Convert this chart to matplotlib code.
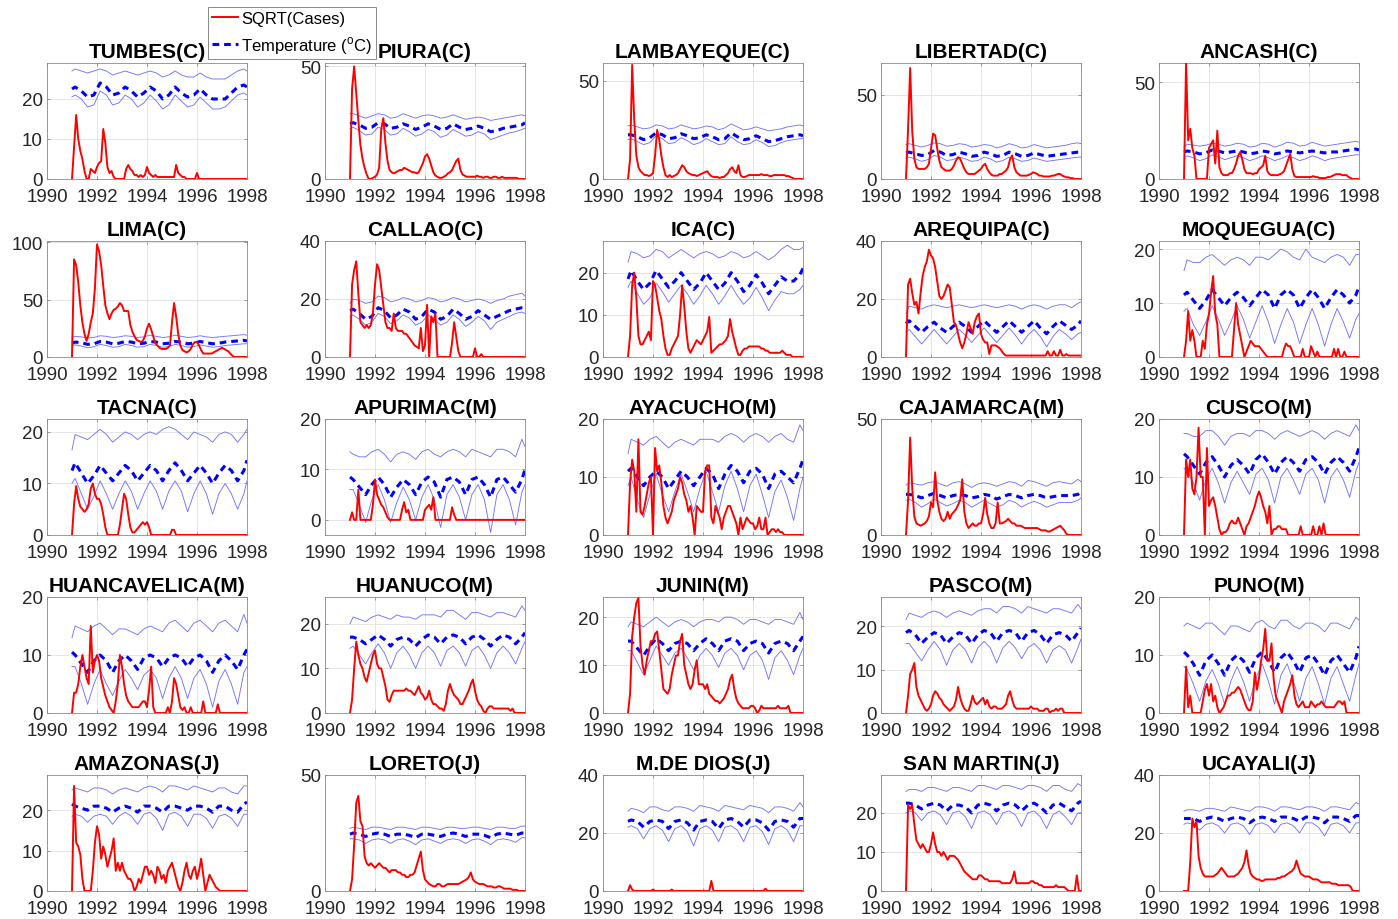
import numpy as np
import matplotlib
matplotlib.use("Agg")
import matplotlib.pyplot as plt
from matplotlib.lines import Line2D

plt.rcParams['font.family'] = ['Liberation Sans', 'DejaVu Sans']
plt.rcParams['mathtext.fontset'] = 'custom'
plt.rcParams['mathtext.rm'] = 'Liberation Sans'

# ---------------- data ----------------
# SQRT(cases): monthly values, Jan 1991 ... Dec 1997, then Jan 1998 (85 values)
# temperatures: start 1991.0, then Feb/May/Aug/Nov of 1991..1997, then 1998.0 (30 values)
names = ["TUMBES(C)", "PIURA(C)", "LAMBAYEQUE(C)", "LIBERTAD(C)", "ANCASH(C)",
         "LIMA(C)", "CALLAO(C)", "ICA(C)", "AREQUIPA(C)", "MOQUEGUA(C)",
         "TACNA(C)", "APURIMAC(M)", "AYACUCHO(M)", "CAJAMARCA(M)", "CUSCO(M)",
         "HUANCAVELICA(M)", "HUANUCO(M)", "JUNIN(M)", "PASCO(M)", "PUNO(M)",
         "AMAZONAS(J)", "LORETO(J)", "M.DE DIOS(J)", "SAN MARTIN(J)", "UCAYALI(J)"]

year_ticks = [1990, 1992, 1994, 1996, 1998]

tumbes_c = [0, 8, 16, 10, 7, 5, 2, 0, 0, 2.5, 2, 1.5,
            3, 4, 4.5, 12.5, 9, 3, 1.5, 2, 0.5, 0, 0, 0,
            0, 0, 2.5, 3.5, 2.5, 2, 1, 1, 0.5, 1, 0.5, 1,
            3, 1.5, 1, 0.5, 1, 0.5, 0.5, 0.5, 0.5, 0.5, 0.5, 0.5,
            0.5, 0.5, 3.5, 1.5, 1, 0.5, 0.5, 0, 0, 0, 0, 0,
            1.5, 0, 0, 0, 0, 0, 0, 0, 0, 0, 0, 0,
            0, 0, 0, 0, 0, 0, 0, 0, 0, 0, 0, 0,
            0]
tumbes_hi = [27, 27.5, 27, 26.5, 27, 27.5, 27, 26, 26.5, 27, 26.5, 26, 26.5, 27, 26.5, 25.5, 26,
             27, 26, 25.5, 25.5, 26.5, 25.5, 25, 25, 25, 26, 27, 27.5, 27]
tumbes_mu = [22.5, 23, 22, 20.5, 21, 24, 23, 21, 21.5, 23, 22, 20.5, 21.5, 23, 22, 20, 21,
             23, 21.5, 20.5, 21, 22.5, 21, 20, 20, 20, 21.5, 23, 23.5, 23]
tumbes_lo = [20.5, 21, 20, 18, 18.5, 22, 21, 18.5, 19, 21, 20, 18, 19, 21, 19.5, 17.5, 18.5,
             21, 19.5, 18, 18.5, 20.5, 19, 17.5, 17.5, 18, 19.5, 21, 21.5, 21]

piura_c = [0, 40, 50, 38, 26, 15, 9, 5, 2, 0, 0, 0.5,
           1, 2, 5, 22, 27, 16, 8, 4, 3, 2.5, 3, 3.5,
           4, 4, 5, 4.5, 4, 3.5, 3, 3, 2.5, 3, 5, 7,
           10, 11, 9, 6, 3, 1.5, 1, 0.5, 0.5, 1, 1.5, 2.5,
           3, 4, 6, 8, 9, 4, 2, 1.5, 1, 1, 1, 1,
           1, 1.5, 1, 1, 0.5, 1, 1, 0.5, 0.5, 1, 1, 0.5,
           0.5, 1, 0.5, 0.5, 0.5, 0.5, 0.5, 0.5, 0.5, 0, 0, 0,
           0]
piura_hi = [29, 29, 28, 27, 28, 29, 28.5, 27, 27.5, 29, 28, 27, 28, 28.5, 28, 27, 27.5,
            28.5, 27.5, 26.5, 27, 27.5, 27, 26, 26.5, 27, 27.5, 28, 28.5, 28]
piura_mu = [24.5, 25, 24, 22.5, 23, 25, 24.5, 22.5, 23, 24.5, 23.5, 22, 23, 24.5, 23.5, 22, 22.5,
            24.5, 23, 22, 22.5, 23.5, 22.5, 21, 21.5, 22.5, 23, 23.5, 24, 25]
piura_lo = [22.5, 23, 21.5, 19.5, 20, 23, 22, 19.5, 20, 22.5, 21, 19, 20, 22, 21, 18.5, 19.5,
            22, 20.5, 19, 19.5, 21, 20, 17.5, 18.5, 19.5, 20.5, 21, 22, 22.5]

lamb_c = [0, 10, 58, 30, 12, 6, 4, 3, 2, 2, 1.5, 2,
          3, 12, 25, 20, 12, 6, 2, 1, 2, 1, 1.5, 2,
          3, 5, 7, 6, 4, 3, 2.5, 2, 2, 1.5, 2, 2.5,
          3, 3.5, 4, 2.5, 1.5, 1, 1, 1, 0.5, 1, 1, 2,
          3, 5, 6, 4, 3, 7, 2, 1, 1, 1.5, 2, 2,
          2, 2, 2, 2, 2.5, 2, 2, 2, 1.5, 1.5, 2, 2,
          2, 2, 2, 2, 1.5, 1.5, 1, 0.5, 0, 0, 0, 0,
          0]
lamb_hi = [27, 27.5, 26.5, 25.5, 26, 27.5, 27, 25.5, 26, 27.5, 26.5, 25.5, 26, 27, 26.5, 25, 26,
           28, 26.5, 25, 25.5, 26.5, 25.5, 24.5, 25, 25.5, 26.5, 27, 27.5, 27]
lamb_mu = [22.5, 22.5, 21.5, 20, 21, 23.5, 22.5, 20.5, 21, 23, 22, 20.5, 21, 22.5, 21.5, 20, 20.5,
           23.5, 21.5, 20, 20.5, 22, 20.5, 19, 19.5, 20.5, 21.5, 22, 22.5, 22]
lamb_lo = [20, 20.5, 19, 17.5, 18.5, 22, 20.5, 18, 18.5, 21, 19.5, 17.5, 18.5, 20.5, 19, 17.5, 18,
           21.5, 19, 17.5, 18, 20, 18.5, 16.5, 17, 18.5, 19.5, 20, 20.5, 20.5]

lib_c = [0, 30, 66, 28, 12, 7, 6, 6, 6, 6, 7, 9,
         18, 27, 26, 18, 11, 7, 6, 5, 5, 5, 6, 8,
         11, 13, 12, 9, 6, 4, 3, 3, 3, 3, 4, 5,
         6, 8, 9, 6, 4, 2.5, 2, 2, 2, 3, 3, 4,
         5, 7, 12, 14, 7, 4, 3, 2, 2, 2, 2, 2.5,
         3, 4, 3.5, 3, 2, 2, 1.5, 1.5, 1.5, 1.5, 2, 2,
         2.5, 3, 3, 2, 1.5, 1, 1, 0.5, 0.5, 0, 0, 0,
         0]
lib_hi = [20.5, 21, 20, 19, 20, 21.5, 21, 19.5, 20, 21, 20.5, 19, 19.5, 20.5, 20, 18.5, 19.5,
          21, 20, 18.5, 19, 20.5, 19.5, 18.5, 19, 19.5, 20, 21, 21.5, 21]
lib_mu = [15.5, 16, 15, 14, 14.5, 17, 16, 14, 14.5, 16, 15, 13.5, 14, 16, 15, 13.5, 14,
          16, 15, 13.5, 14, 15.5, 14.5, 13.5, 14, 14.5, 15, 15.5, 16, 16]
lib_lo = [12.5, 13, 12, 10.5, 11.5, 14, 13, 11, 11.5, 13, 12, 10.5, 11, 13, 12, 10, 11,
          13, 12, 10.5, 11, 12.5, 11.5, 10.5, 11, 11.5, 12, 12.5, 13, 13]

anc_c = [0, 60, 20, 26, 16, 12, 0, 0, 0, 0, 0, 0,
         16, 18, 20, 8, 25, 6, 3, 2, 2, 2, 3, 3,
         5, 8, 12, 14, 10, 5, 3, 3, 3, 2.5, 3, 3,
         5, 6, 7, 12, 4, 2.5, 2, 2, 2, 2, 2.5, 3,
         4, 7, 10, 13, 5, 1.5, 1, 1, 1, 1, 1, 1,
         1, 1, 1.5, 1, 1, 0.5, 0.5, 0.5, 0.5, 1, 1, 1.5,
         2, 2.5, 2.5, 2.5, 2, 2, 2, 1, 0.5, 0, 0, 0,
         0]
anc_hi = [16.5, 18, 17.5, 17, 17.5, 18.5, 18, 17, 17.5, 18.5, 18, 16.5, 17, 18.5, 18, 16.5, 17.5,
          19, 18.5, 17, 17.5, 19, 18, 17, 17.5, 18, 18.5, 19, 19.5, 19]
anc_mu = [14, 14.5, 14, 13, 13.5, 15, 14.5, 13.5, 14, 14.5, 14, 13, 13.5, 14.5, 14, 13, 13.5,
          14.5, 14, 13.5, 14, 14.5, 14, 13.5, 14, 14, 14.5, 15, 15.5, 15]
anc_lo = [11, 12, 11, 9.5, 10.5, 12.5, 11.5, 10, 11, 12, 11, 9.5, 10.5, 12, 11, 9.5, 10.5,
          12, 11, 9.5, 10.5, 12, 11, 9.5, 10.5, 11, 11.5, 12, 12.5, 12.5]

lima_c = [0, 85, 80, 65, 45, 30, 20, 14, 20, 30, 38, 60,
          98, 92, 80, 62, 45, 38, 33, 38, 41, 42, 44, 47,
          45, 40, 40, 40, 28, 22, 18, 15, 14, 13, 14, 18,
          25, 29, 24, 18, 12, 10, 8, 7, 7, 7, 8, 10,
          30, 47, 35, 20, 10, 6, 5, 4, 5, 7, 11, 13,
          13, 10, 6, 3, 3, 3, 3, 3, 4, 5, 6, 7,
          8, 7, 6, 5, 3, 1, 0, 0, 0, 0, 0, 0,
          0]
lima_hi = [17, 18, 17.5, 16.5, 17, 18.5, 18, 17, 17.5, 18.5, 18, 17, 17.5, 19, 18, 17, 17.5,
           19, 18, 17, 17.5, 18.5, 17.5, 17, 17.5, 18, 18.5, 19, 19.5, 19]
lima_mu = [12, 13, 12.5, 11, 11.5, 13.5, 13, 11.5, 12, 13.5, 13, 11.5, 12, 13.5, 13, 11.5, 12,
           13.5, 13, 11.5, 12, 13.5, 12.5, 11.5, 12, 13, 13.5, 14, 14.5, 14]
lima_lo = [10, 10.5, 9.5, 8, 9, 11, 10, 8.5, 9, 11, 10, 8.5, 9, 11, 10, 8.5, 9,
           11, 10, 8.5, 9, 10.5, 9.5, 8.5, 9, 10, 10.5, 11, 11.5, 11.5]

callao_c = [0, 25, 30, 33, 22, 12, 11, 10, 11, 10, 11, 15,
            25, 32, 30, 24, 18, 12, 10, 10, 9, 15, 10, 9,
            9, 9, 8, 8, 7, 6, 5, 4, 3.5, 3, 10, 2,
            4, 18, 0, 14, 12, 15, 0, 0, 0, 0, 0, 0,
            0, 5, 12, 7, 2, 0, 0, 0, 0, 0, 0, 0,
            3, 0, 0, 1, 0, 0, 0, 0, 0, 0, 0, 0,
            0, 0, 0, 0, 0, 0, 0, 0, 0, 0, 0, 0,
            0]
callao_hi = [18.5, 20, 19.5, 18.5, 19, 21, 20.5, 19, 19.5, 20.5, 20, 19, 19.5, 20.5, 20, 19, 19.5,
             20.5, 20, 19, 19.5, 20, 19.5, 18.5, 19.5, 20, 21, 21.5, 22, 21]
callao_mu = [16, 16.5, 15, 13, 14, 17, 16, 13.5, 14.5, 16.5, 15.5, 13, 14, 16.5, 15.5, 13, 14,
             16.5, 15, 13, 14, 16, 14.5, 13, 14, 15, 16, 16.5, 17, 17]
callao_lo = [14, 14.5, 13, 11, 12, 15, 14, 11.5, 12.5, 14.5, 13.5, 11, 12, 14.5, 13, 11, 12,
             14.5, 13, 10.5, 12, 14, 12.5, 9.5, 12, 13, 14, 15, 15.5, 15]

ica_c = [0, 5, 17, 20, 14, 5, 3, 3, 4, 5, 6, 4,
         18, 17, 14, 11, 9, 5, 2, 0.5, 0.5, 2, 3, 4,
         5, 10, 17, 12, 6, 2, 1, 2, 3, 4, 3.5, 3,
         4, 5, 6, 9.5, 1, 1.5, 2, 2.5, 3, 3, 3.5, 4,
         5, 9, 6, 4, 2, 0.5, 0.5, 1.5, 2, 2, 2.5, 2.5,
         2.5, 2.5, 2.5, 2.5, 2, 2, 1.5, 1.5, 1, 1, 1, 1,
         1, 1, 1.5, 1, 0.5, 0.5, 0.5, 0, 0, 0, 0, 0,
         0]
ica_hi = [22.5, 25, 24.5, 23.5, 24, 25.5, 25, 23.5, 24.5, 25.5, 24.5, 23.5, 24.5, 25, 24.5, 23.5, 24,
          25, 24.5, 23.5, 24, 25, 24, 23, 24, 25.5, 26.5, 25.5, 25.5, 26]
ica_mu = [18.5, 20.5, 18, 16, 17.5, 20.5, 18.5, 16.5, 18, 20, 18, 16, 17.5, 20, 18, 16, 17.5,
          20, 18, 15.5, 17, 19.5, 17.5, 15, 17, 19, 18, 18, 19.5, 21]
ica_lo = [16.5, 18, 15, 12.5, 14, 17.5, 15.5, 13, 15, 17, 15, 12.5, 14.5, 17, 15, 12.5, 14.5,
          17, 14.5, 12.5, 14, 16.5, 14, 11, 13.5, 15.5, 15, 15, 16, 17]

areq_c = [0, 25, 27, 22, 18, 19, 15, 22, 28, 31, 33, 37,
          35, 34, 31, 26, 21, 20, 21, 23, 25, 24, 18, 12,
          11, 8, 5, 3, 5, 8, 12, 10, 8, 12, 14, 15,
          8, 6, 5, 5, 1, 4, 4, 4, 3.5, 3, 2, 1,
          0.5, 0.5, 0.5, 0.5, 0.5, 0.5, 0.5, 0.5, 0.5, 0.5, 0.5, 0.5,
          0.5, 0.5, 0.5, 0.5, 0.5, 0.5, 0.5, 0.5, 2, 0.5, 0.5, 2,
          0.5, 0.5, 2.5, 0.5, 0.5, 1, 0.5, 0.5, 0.5, 0.5, 0.5, 0.5,
          0.5]
areq_hi = [15, 17.5, 17, 16.5, 17.5, 18, 17.5, 17, 17.5, 18, 17.5, 17, 17.5, 18, 17.5, 17, 17.5,
           18, 17.5, 16.5, 17.5, 18, 17.5, 16.5, 17.5, 18, 18, 17, 18.5, 19]
areq_mu = [11.5, 12.5, 10.5, 8.5, 10.5, 12, 10, 8.5, 10.5, 12, 10.5, 8.5, 10.5, 12.5, 10.5, 8.5, 10.5,
           12.5, 10.5, 8.5, 10.5, 12.5, 10, 8, 10.5, 12.5, 11, 9.5, 11, 12.5]
areq_lo = [8.5, 9.5, 7, 4.5, 7, 9.5, 7, 4.5, 7, 9.5, 7.5, 5, 7.5, 10, 7.5, 5, 7.5,
           10, 7.5, 4.5, 7.5, 9.5, 7, 3.5, 7, 9.5, 8, 6, 8, 8.5]

moq_c = [0, 3, 8.5, 3, 5, 3, 0, 0, 0, 3, 1.5, 6,
         8, 12, 15, 8, 6, 0, 0, 0, 0, 0, 0, 0,
         5, 10, 6, 4, 2, 0, 1, 2, 3, 2.5, 2, 2,
         2, 1.5, 1, 0.5, 0, 0, 0, 0, 0, 0, 0, 0,
         1.5, 2.5, 2, 2, 1, 0, 0, 0, 0, 1.5, 0, 0,
         0, 2, 1, 0, 1, 0, 0, 0, 0, 0, 0, 0,
         1.5, 0, 1.5, 0, 0, 1, 0, 0, 0, 0, 0, 0,
         0]
moq_hi = [16, 18, 17.5, 17.5, 18.5, 19, 18, 17, 18, 18.5, 18, 17, 18.5, 18.5, 18, 19, 20,
          19.5, 18.5, 18, 20, 18.5, 18, 17.5, 18.5, 19, 18.5, 17, 19, 19]
moq_mu = [11.5, 12, 10.5, 9, 10.5, 12.5, 11, 9.5, 11, 12, 11, 9.5, 11, 12.5, 11.5, 9, 11.5,
          12.5, 11.5, 9, 11, 12.5, 11, 9, 11, 12.5, 11.5, 10, 11.5, 13]
moq_lo = [8.5, 9, 6, 4, 6.5, 9.5, 7, 4, 6.5, 9.5, 7, 3.5, 6.5, 9.5, 6.5, 2.5, 6,
          9, 6.5, 2.5, 6, 9, 6, 2, 6, 9, 6.5, 3.5, 7, 8]

tacna_c = [0, 6, 9.5, 7, 5.5, 5, 4.5, 5, 6, 9, 10, 8,
           7, 7, 6, 4, 1.5, 0, 0, 0, 0, 0, 0, 2,
           5, 8, 7, 4, 1.5, 0.5, 0.5, 1, 1.5, 2, 2.5, 2,
           2.5, 1.5, 0, 0, 0, 0, 0, 0, 0, 0, 0, 0,
           1, 1, 0, 0, 0, 0, 0, 0, 0, 0, 0, 0,
           0, 0, 0, 0, 0, 0, 0, 0, 0, 0, 0, 0,
           0, 0, 0, 0, 0, 0, 0, 0, 0, 0, 0, 0,
           0]
tacna_hi = [16.5, 19.5, 19, 18.5, 19.5, 20.5, 19.5, 18, 19, 20, 19.5, 18.5, 19.5, 20, 19.5, 20.5, 21,
            20.5, 19.5, 18.5, 20, 19.5, 19, 18, 19.5, 20, 19.5, 18, 19.5, 20.5]
tacna_mu = [12.5, 14, 12, 10, 11.5, 13.5, 12, 10.5, 12, 13.5, 12.5, 10.5, 12, 13.5, 12.5, 10.5, 12.5,
            14, 12.5, 10.5, 12, 13.5, 12, 10, 12, 13.5, 12.5, 10.5, 12.5, 14.5]
tacna_lo = [10, 11, 8, 5, 7.5, 10.5, 8, 5, 8, 10.5, 8.5, 5, 8, 10.5, 8.5, 5, 8.5,
            10.5, 8.5, 4.5, 8, 10.5, 8, 4, 8, 10, 8, 5, 8, 10.5]

apur_c = [0, 1.5, 0, 0, 6, 0, 0, 0, 0, 0, 0, 3,
          8, 5, 4, 3, 2.5, 1.5, 0.5, 0, 0, 0, 0, 0,
          0, 2, 3.5, 1.5, 2, 0, 0, 0, 0, 0, 0, 0,
          2, 2.5, 3, 2, 4.5, 0, 0, 0, 0, 0, 0, 0,
          0, 2.5, 1, 0, 0, 0, 0, 0, 0, 0, 0, 0,
          0, 0, 0, 0, 0, 0, 0, 0, 0, 0, 0, 0,
          0, 0, 0, 0, 0, 0, 0, 0, 0, 0, 0, 0,
          0]
apur_hi = [13.5, 13, 12.5, 12.5, 13.5, 14, 13, 11.5, 13, 13.5, 13, 12, 13.5, 14, 13, 12.5, 13.5,
           14, 13.5, 12.5, 14, 13.5, 13, 12.5, 14, 14, 13.5, 12.5, 16, 14.5]
apur_mu = [8.5, 8, 6.5, 5, 7, 8.5, 7, 4.5, 6.5, 8, 7, 5, 7.5, 8.5, 7.5, 4.5, 8,
           8.5, 7.5, 5, 8, 8.5, 7, 4.5, 8, 8.5, 7, 5.5, 8, 10]
apur_lo = [6, 6, 3, -0.5, 4, 7, 4, -0.5, 3.5, 6.5, 4, 0, 4.5, 7, 4, -1.5, 5,
           7, 4.5, 0, 5, 7, 4, -2.5, 5, 7, 4, -1, 5.5, 7]

ayac_c = [0, 9, 13, 11, 4, 16.5, 4, 3.5, 5, 7, 9, 10,
          0, 15, 11, 12, 9, 5, 3, 2, 3, 4, 6, 7,
          8, 10, 9, 7, 6, 4, 5, 3, 0, 5, 4.5, 4,
          4, 11, 12, 12, 3, 2, 5, 4, 3, 1, 3, 4,
          5, 5, 4, 3, 2, 0, 3, 1, 2, 3, 2.5, 2,
          2, 1, 1.5, 3, 1, 1, 3, 0, 0.5, 1, 1, 0.5,
          1, 0.5, 0.5, 0, 0, 0, 0, 0, 0, 0, 0, 0,
          0]
ayac_hi = [14, 16.5, 16, 15.5, 16.5, 17, 16, 15, 16, 16.5, 16, 15.5, 16.5, 16.5, 16.5, 16, 17,
           17.5, 17, 16, 17, 17.5, 17, 16, 17, 17.5, 16.5, 16, 19, 18]
ayac_mu = [11, 11.5, 10, 8.5, 10, 11, 10, 8, 9.5, 11, 10, 8.5, 10, 11.5, 10.5, 8, 10.5,
           12, 11, 9, 11, 11.5, 10.5, 8, 10.5, 11, 10, 9, 11.5, 13]
ayac_lo = [8.5, 10, 6, 3, 7, 10.5, 7, 4, 7.5, 10.5, 7.5, 4, 8, 11, 7.5, 4, 8.5,
           11, 8, 4, 8.5, 10.5, 7, 3, 7.5, 9.5, 6.5, 2.5, 8, 10]

caja_c = [0, 15, 42, 20, 8, 5, 4.5, 4, 4.5, 5, 6, 8,
          14, 12, 27, 15, 10, 7, 6, 7, 10, 7, 9, 10,
          11, 13, 15, 24, 10, 5, 3, 4, 5, 4, 4, 5,
          5, 9, 16, 9, 5, 3, 3, 5, 14, 5, 5, 5.5,
          6, 7, 6, 5, 5, 4, 4, 4, 3.5, 3, 3, 3,
          3, 3, 3, 3, 2.5, 2, 2, 2, 1.5, 1.5, 2, 2.5,
          3, 3.5, 4, 3, 2, 0.5, 0, 0, 0, 0, 0, 0,
          0]
caja_hi = [21.5, 22.5, 22, 21.5, 22.5, 23, 22, 21, 22.5, 23, 22, 20.5, 22, 22.5, 22, 21, 22,
           23, 22.5, 21, 23.5, 23, 22, 21, 22.5, 23, 22.5, 22, 24, 23]
caja_mu = [17.5, 17.5, 17, 16, 17, 18, 17, 16, 17, 17.5, 17, 16, 16.5, 17.5, 17, 15.5, 16.5,
           17.5, 17, 16, 17, 17.5, 17, 16, 16.5, 17, 17, 17, 17.5, 18.5]
caja_lo = [15, 15.5, 14, 12, 13.5, 15.5, 14, 12.5, 13.5, 15, 14, 12, 13.5, 15, 13.5, 12, 13,
           15, 14, 12, 13.5, 14.5, 13.5, 12, 13, 14, 14, 14, 15, 16]

cusco_c = [0, 13, 10, 13, 8, 7, 10, 18.5, 10, 10, 0, 15,
           5, 6, 6.5, 5, 3, 1, 0, 0.5, 0.5, 1, 2, 2.5,
           2, 2, 3, 2, 1, 0, 1.5, 2, 3, 4, 5, 6.5,
           7.5, 6.5, 5, 4, 2, 5, 0, 1, 1, 1.5, 1.5, 1,
           1, 1, 0, 0, 0, 0, 0, 0, 1.5, 0, 0, 0,
           0, 0, 1.5, 0, 0, 1.5, 0, 2, 0, 0, 0, 0,
           0, 0, 0, 0, 0, 0, 0, 0, 0, 0, 0, 0,
           0]
cusco_hi = [17.5, 17.5, 17, 17, 18, 18, 17, 15.5, 17, 17.5, 17.5, 17, 18, 18, 17.5, 16.5, 17.5,
            18, 17.5, 17, 17.5, 18, 17.5, 16.5, 17.5, 18, 17.5, 17, 19, 18]
cusco_mu = [14, 13.5, 12, 10.5, 12.5, 13.5, 12, 10, 12, 13, 12, 10.5, 13, 14, 12.5, 10.5, 12.5,
            13.5, 12.5, 11, 13, 13.5, 12.5, 10.5, 12.5, 13.5, 12.5, 11, 13.5, 15]
cusco_lo = [11.5, 11, 9, 6, 9.5, 11.5, 9, 5.5, 9, 11, 9, 7, 10.5, 11.5, 9.5, 5.5, 10,
            11.5, 9.5, 7, 10.5, 11.5, 9.5, 5.5, 10, 11.5, 9.5, 6.5, 11, 12.5]

hcav_c = [0, 3.5, 3.5, 5, 8, 10, 8, 6, 5, 15, 7, 9,
          10, 9, 6, 4.5, 3, 2, 1, 0.5, 0, 2, 5, 10,
          8, 5, 3, 2, 1.5, 1, 1, 1, 1, 1.5, 2, 2,
          1, 4, 8, 1, 0, 0, 0, 0, 0, 0, 1, 0,
          2, 6, 5, 3, 1, 0.5, 1, 0, 0, 1, 0, 0,
          0, 0, 0, 2, 0, 0, 0, 0, 0, 0, 1.5, 0,
          0, 0, 0, 0, 0, 0, 0, 0, 0, 0, 0, 0,
          0]
hcav_hi = [13, 15, 14.5, 14, 15, 15.5, 14.5, 13.5, 14.5, 14.5, 14, 13.5, 14.5, 15, 14.5, 14, 15.5,
           16, 15, 14, 15.5, 16, 15, 14, 15.5, 16, 15, 14, 17, 15.5]
hcav_mu = [10.5, 10, 8.5, 7, 9, 10, 9, 7, 9, 10, 9, 7.5, 9.5, 10, 9.5, 8, 9.5,
           10, 9.5, 8, 9.5, 10, 9, 7, 9, 10, 9, 7.5, 10, 11]
hcav_lo = [8, 8, 5, 1.5, 5, 7.5, 5, 3, 5.5, 7.5, 6, 4, 6.5, 7.5, 6, 2.5, 6,
           8, 6, 2.5, 6, 7.5, 5, 1, 5.5, 7.5, 5, 1.5, 7, 8]

huan_c = [0, 3, 10, 16, 13, 11, 10, 8, 7, 9, 11, 13,
          14, 11, 10, 10, 8, 6, 3, 2.5, 4, 5, 5, 5,
          5, 5, 5, 5.5, 5, 5, 4.5, 4, 5, 6, 4.5, 4,
          3, 3.5, 5, 3, 2, 2, 1.5, 1, 1, 0.5, 2, 5,
          6.5, 5, 4, 3.5, 3, 2, 2, 3, 4, 5, 6.5, 7.5,
          5, 3, 2, 1.5, 0.5, 0, 1, 1.5, 1.5, 1, 1, 1,
          1, 1, 1, 1, 1, 0.5, 1, 0, 0, 0, 0, 0,
          0]
huan_hi = [20, 21.5, 21, 20.5, 21.5, 22, 21.5, 21, 22, 21.5, 21.5, 21, 22, 22, 22, 21.5, 23,
           23, 22, 21, 22.5, 22.5, 22, 21.5, 22.5, 22.5, 22, 21.5, 24, 23]
huan_mu = [17, 17, 16.5, 15.5, 16.5, 17.5, 16.5, 15, 16.5, 17, 16.5, 15, 16.5, 17.5, 17, 15.5, 17,
           17.5, 17, 15.5, 17, 17.5, 16.5, 15, 16.5, 17.5, 17, 15.5, 17, 18]
huan_lo = [14.5, 15, 13, 11, 13.5, 15.5, 13.5, 10, 13.5, 15, 13, 10, 13.5, 15, 13.5, 10.5, 14,
           15, 13.5, 10.5, 14, 15, 13, 10, 13.5, 15, 13.5, 11, 14.5, 16]

junin_c = [0, 4, 16, 20, 23, 24, 14, 10, 8, 11, 13, 15,
           15, 16.5, 17, 13, 9, 5, 4.5, 4, 5, 8, 10, 12,
           12, 15, 16.5, 10, 8, 6, 5, 6, 9, 11, 6, 6,
           6, 5, 6, 4, 3.5, 3, 2.5, 2.5, 2, 2.5, 3, 4,
           5, 7, 8, 5, 3, 2, 1.5, 1, 1, 1, 1, 1.5,
           1.5, 1, 0, 0.5, 1.5, 1, 1, 1, 1, 1, 1, 1,
           1.5, 1, 1, 1, 1, 1.5, 0, 0, 0, 0, 0, 0,
           0]
junin_hi = [18, 19, 18.5, 18, 19, 20, 19, 18, 19, 19.5, 19, 18, 19, 19.5, 19.5, 19, 20,
            20, 19.5, 18.5, 19.5, 19.5, 19, 18.5, 19.5, 19.5, 19, 18.5, 21, 19.5]
junin_mu = [15, 15, 13.5, 12, 14, 15.5, 14.5, 13, 14.5, 15, 14.5, 13, 14.5, 15.5, 14.5, 13, 15,
            15.5, 15, 13, 14.5, 15, 14.5, 12.5, 14.5, 15, 14.5, 13, 15, 16]
junin_lo = [13, 13, 10.5, 8, 11, 14, 12, 10, 12.5, 13.5, 11.5, 9, 12, 13.5, 12, 9.5, 12.5,
            13.5, 12, 9, 12, 13, 11, 7, 11.5, 13, 11, 8, 12, 13.5]

pasco_c = [0, 4, 9, 10, 11.5, 6, 4, 3, 2, 1, 0.5, 1,
           2, 4, 5, 4.5, 3.5, 3, 2, 1.5, 1, 0.5, 1, 1.5,
           3, 6, 3.5, 2, 1, 0.5, 0.5, 2, 4, 2.5, 2, 2.5,
           3, 3.5, 2, 3, 1.5, 1, 1.5, 1.5, 1, 1, 1, 1.5,
           2, 4, 5, 3, 1.5, 1, 1, 1, 1, 1, 1, 1,
           1.5, 1, 1, 1, 0.5, 0.5, 0.5, 1, 1, 0, 0.5, 0.5,
           1, 0.5, 1, 1, 0, 0, 0, 0, 0, 0, 0, 0,
           0]
pasco_hi = [21.5, 23, 22.5, 22, 23, 23.5, 23, 22, 23, 23.5, 23, 22.5, 23.5, 24, 24, 23, 24.5,
            24.5, 24, 23, 24.5, 24, 23.5, 23, 24, 24, 23.5, 23, 25, 24]
pasco_mu = [18.5, 19, 18, 16, 17.5, 18.5, 18, 16, 17.5, 18.5, 18, 16, 18, 19, 18.5, 16.5, 18.5,
            19, 18.5, 16.5, 18.5, 19, 18, 16, 18, 18.5, 18, 16.5, 18.5, 19.5]
pasco_lo = [16, 16, 14, 12, 14.5, 16.5, 14.5, 11, 14.5, 16, 14.5, 11.5, 15, 16.5, 15, 11.5, 15,
            16.5, 15, 12.5, 15, 16, 14.5, 11.5, 14.5, 15.5, 14.5, 11.5, 15, 17]

puno_c = [0, 8, 1, 3, 0, 0, 0, 0, 0, 2, 4, 5,
          3, 5, 2, 3, 1, 0, 0.5, 1, 2, 3, 3, 3.5,
          3.5, 4, 4.5, 4, 3, 2, 1, 0.5, 0.5, 2, 7, 4,
          6, 9, 11, 14.5, 9, 9, 12, 6, 3, 2, 1, 0,
          2, 3, 4, 5, 6.5, 3, 1.5, 1, 1.5, 2, 1, 1,
          1, 2, 1.5, 1, 1.5, 1.5, 2, 1.5, 1, 1, 1, 1,
          1, 1.5, 2, 2, 1.5, 2, 0, 0, 0, 0, 0, 0,
          0]
puno_hi = [15, 15.5, 15, 14.5, 15.5, 15.5, 14.5, 13.5, 15, 15, 14.5, 14, 15.5, 16, 15, 14.5, 16,
           16, 15, 14.5, 15.5, 15.5, 15, 14, 15.5, 15.5, 15, 14.5, 16.5, 16]
puno_mu = [10.5, 10, 8.5, 6.5, 9, 10, 8.5, 6.5, 9, 10, 9, 7, 9.5, 10.5, 9, 7, 9.5,
           10.5, 9, 7, 9.5, 10, 8.5, 6.5, 9, 10, 8.5, 7, 9.5, 11.5]
puno_lo = [8, 7.5, 5, 2, 5.5, 7.5, 5, 1.5, 5.5, 8, 5.5, 2, 6, 8.5, 5.5, 1.5, 6.5,
           8.5, 5.5, 2, 6, 8, 5, 1.5, 6, 8, 5, 2, 6.5, 8.5]

amaz_c = [0, 26, 12, 11, 9, 3, 0, 0, 0, 0, 5, 12,
          16, 14, 8, 11, 9, 6, 8, 10, 13, 5, 7, 5,
          7, 5, 4, 3, 3, 2, 0, 1, 3, 2, 4, 6,
          6, 4, 5, 4, 2, 6, 5, 3, 4, 2, 5, 6,
          7, 5, 3, 1, 0, 2, 5, 7, 4, 3, 5, 6,
          3, 5, 8, 4, 0, 2, 4, 3, 2, 1, 0.5, 0,
          0, 0, 0, 0, 0, 0, 0, 0, 0, 0, 0, 0,
          0]
amaz_hi = [25, 25.5, 25, 24.5, 25.5, 25.5, 25, 24, 25, 25.5, 25, 24.5, 25.5, 26, 25.5, 24.5, 26,
           26, 25.5, 25, 26, 25.5, 25, 24.5, 25.5, 25.5, 24.5, 24, 26, 26]
amaz_mu = [21.5, 21, 20.5, 20, 21, 21, 20.5, 19.5, 20.5, 21, 20.5, 19.5, 21, 21, 20.5, 19.5, 21,
           21, 20.5, 20, 21, 21, 20.5, 19.5, 21, 21, 20, 19.5, 21.5, 22]
amaz_lo = [18.5, 19, 18.5, 17, 18.5, 19, 18.5, 16.5, 18.5, 19.5, 18.5, 16.5, 19, 19.5, 18, 15, 19,
           19.5, 18.5, 16, 19, 19, 18, 15.5, 18.5, 19, 18, 16, 19, 19]

loreto_c = [0, 5, 20, 38, 41, 30, 28, 15, 12, 11, 12, 11,
            10, 11, 12, 11, 10, 10, 9, 8, 9, 9, 9, 8,
            8, 7, 7, 6, 6, 7, 7, 8, 11, 14, 17, 9,
            5, 4, 3, 2.5, 2, 2, 3, 3, 2, 2, 2.5, 3,
            3, 3, 3, 3, 3, 3.5, 4, 4.5, 5, 6, 8, 5,
            4, 3.5, 3, 3, 3, 2.5, 2, 2, 2, 1.5, 1.5, 2,
            2, 1.5, 1, 1, 1, 1, 0.5, 0.5, 0.5, 0, 0, 0,
            0]
loreto_hi = [27, 27.5, 27, 26.5, 27.5, 27.5, 27, 26.5, 27.5, 27.5, 27, 26.5, 27.5, 27.5, 27, 26.5, 27.5,
             27.5, 27, 27, 27.5, 27.5, 27, 26.5, 27.5, 27.5, 27, 27, 28, 28]
loreto_mu = [24.5, 25, 24.5, 23.5, 24.5, 25, 24.5, 23.5, 24.5, 24.5, 24, 23, 24.5, 24.5, 24, 23.5, 24.5,
             25, 24.5, 23.5, 24.5, 24.5, 24, 23, 24.5, 25, 24.5, 24, 25, 25]
loreto_lo = [22.5, 22.5, 22, 20.5, 22, 22.5, 22, 20.5, 22, 22.5, 21.5, 20, 22, 22.5, 21.5, 20.5, 22,
             22.5, 22, 20.5, 22, 22.5, 21.5, 20, 22, 22.5, 22, 21, 23, 23]

mdd_c = [0, 2, 0.5, 0, 0, 0, 0, 0, 0, 0, 0, 0,
         0.5, 0, 0, 0, 0, 0, 0, 0, 0, 0.5, 0, 0,
         0, 0, 0, 0, 0, 0, 0, 0, 0, 0, 0, 0,
         0, 0, 0, 0, 3.5, 0, 0, 0, 0, 0, 0, 0,
         0, 0, 0, 0, 0, 0, 0, 0, 0, 0, 0, 0,
         0, 0, 0, 0, 0, 0, 0.8, 0, 0, 0, 0, 0,
         0, 0, 0, 0, 0, 0, 0, 0, 0, 0, 0, 0,
         0]
mdd_hi = [27.5, 28.5, 28, 27, 29, 29, 28, 27.5, 29, 29, 28.5, 27.5, 29.5, 29, 28.5, 27.5, 29.5,
          29, 28.5, 28, 29.5, 29, 28.5, 27, 29, 29, 28.5, 27.5, 30.5, 29]
mdd_mu = [24, 24.5, 24, 22, 24, 24.5, 24, 21.5, 24, 24.5, 23.5, 21, 24, 24.5, 24, 21.5, 24.5,
          25, 24, 22, 24.5, 24.5, 23.5, 21, 24, 24.5, 24, 22, 25, 25]
mdd_lo = [22, 22.5, 21.5, 18, 21.5, 22.5, 21, 17, 21.5, 22.5, 20.5, 15.5, 21.5, 22.5, 21, 17, 22,
          22.5, 21, 17, 22, 22.5, 20.5, 16, 21.5, 22.5, 21, 17, 22.5, 22.5]

sanm_c = [0, 22, 21, 22, 17, 13, 12, 11, 12, 11, 10, 10,
          12, 15, 12, 10, 10, 9, 10, 9, 8, 9, 9, 9,
          8.5, 8, 7, 6, 5, 4.5, 4, 3.5, 3, 3, 3, 4,
          4, 3.5, 3, 3, 2.5, 2.5, 2.5, 2.5, 2.5, 2.5, 2, 2,
          2, 2, 2, 3, 5, 2, 2, 2, 2, 2, 2, 2,
          2.5, 2.5, 2, 2, 1.5, 1.5, 1, 1, 1, 1, 1, 1,
          1.5, 1, 1, 1, 1, 0.5, 0, 0, 0, 0, 4, 0,
          0]
sanm_hi = [25.5, 26, 26, 25.5, 26.5, 26.5, 26, 25.5, 26.5, 26.5, 26, 25.5, 27, 27, 26.5, 26, 27,
           27, 26.5, 26, 27, 27, 26.5, 25.5, 27, 27, 26, 25.5, 27.5, 27]
sanm_mu = [22.5, 22.5, 22, 21, 22, 22.5, 22, 20.5, 22, 22, 21.5, 20, 22, 22.5, 22, 20.5, 22,
           22.5, 22, 20.5, 22, 22.5, 21.5, 20, 22, 22.5, 21.5, 20.5, 22.5, 23]
sanm_lo = [20, 20.5, 20, 18, 20, 20.5, 19.5, 17, 20, 20.5, 19, 16, 20, 20.5, 19.5, 17, 20,
           20.5, 19.5, 16.5, 20, 20.5, 19, 16, 19.5, 20.5, 19, 17, 20, 20]

ucay_c = [0, 0, 0, 10, 25, 22, 24, 12, 8, 6, 5, 5,
          5, 5, 5, 5.5, 6, 7, 8, 7, 6, 5, 5, 5,
          5, 5.5, 6, 7, 8, 10, 14, 9, 6, 5, 4.5, 4,
          4, 3.5, 3.5, 4, 4, 4, 4, 4, 4, 4.5, 4.5, 5,
          5, 5.5, 6, 6.5, 7, 8, 10.5, 8, 6, 5.5, 5, 5,
          5, 4.5, 4, 4, 4, 3.5, 3, 3, 3, 3, 3, 2.5,
          2.5, 2.5, 2, 2, 2, 2, 2, 2, 1.5, 0, 0, 0,
          0]
ucay_hi = [27.5, 28, 28, 27.5, 28.5, 28.5, 28, 27.5, 29, 28.5, 28, 27.5, 29, 29, 28.5, 27.5, 29,
           29, 28.5, 28, 29, 29, 28.5, 27.5, 29, 29, 28.5, 28, 30.5, 30]
ucay_mu = [25, 25, 25, 24, 25, 25.5, 25, 24, 25, 25.5, 25, 23.5, 25, 25.5, 25, 24, 25.5,
           25.5, 25, 24, 25.5, 25.5, 25, 23.5, 25.5, 25.5, 25, 24, 26, 26]
ucay_lo = [23, 23.5, 23, 21, 23, 23.5, 22.5, 20, 23, 23.5, 22.5, 19.5, 23, 23.5, 22.5, 20, 23,
           23.5, 22.5, 20, 23.5, 23.5, 22, 19, 23, 23.5, 22.5, 20, 23.5, 23.5]

series = [
    (tumbes_c, tumbes_hi, tumbes_mu, tumbes_lo),
    (piura_c, piura_hi, piura_mu, piura_lo),
    (lamb_c, lamb_hi, lamb_mu, lamb_lo),
    (lib_c, lib_hi, lib_mu, lib_lo),
    (anc_c, anc_hi, anc_mu, anc_lo),
    (lima_c, lima_hi, lima_mu, lima_lo),
    (callao_c, callao_hi, callao_mu, callao_lo),
    (ica_c, ica_hi, ica_mu, ica_lo),
    (areq_c, areq_hi, areq_mu, areq_lo),
    (moq_c, moq_hi, moq_mu, moq_lo),
    (tacna_c, tacna_hi, tacna_mu, tacna_lo),
    (apur_c, apur_hi, apur_mu, apur_lo),
    (ayac_c, ayac_hi, ayac_mu, ayac_lo),
    (caja_c, caja_hi, caja_mu, caja_lo),
    (cusco_c, cusco_hi, cusco_mu, cusco_lo),
    (hcav_c, hcav_hi, hcav_mu, hcav_lo),
    (huan_c, huan_hi, huan_mu, huan_lo),
    (junin_c, junin_hi, junin_mu, junin_lo),
    (pasco_c, pasco_hi, pasco_mu, pasco_lo),
    (puno_c, puno_hi, puno_mu, puno_lo),
    (amaz_c, amaz_hi, amaz_mu, amaz_lo),
    (loreto_c, loreto_hi, loreto_mu, loreto_lo),
    (mdd_c, mdd_hi, mdd_mu, mdd_lo),
    (sanm_c, sanm_hi, sanm_mu, sanm_lo),
    (ucay_c, ucay_hi, ucay_mu, ucay_lo),
]

# axis settings per panel: (ymin, ymax, tick step)
ylims = [(0, 29, 10), (0, 51.5, 50), (0, 59, 50), (0, 69, 50), (0, 60, 50),
         (0, 101, 50), (0, 40, 20), (0, 27.5, 10), (0, 40, 20), (0, 21.5, 10),
         (0, 22.5, 10), (-3, 20, 10), (0, 20, 10), (0, 50, 50), (0, 20, 10),
         (0, 20, 10), (0, 26, 10), (0, 24.2, 10), (0, 26.7, 10), (0, 20, 10),
         (0, 28.7, 10), (0, 50, 50), (0, 40, 20), (0, 29.7, 10), (0, 40, 20)]

# ---------------- drawing ----------------
W, H = 1398.0, 920.0
fig = plt.figure(figsize=(W / 100, H / 100), dpi=100)

thin_col = (0.45, 0.45, 1.0)
spine_col = '#8a8a8a'


def temp_times(n):
    return np.concatenate([[1991.0], 1991.125 + 0.25 * np.arange(n - 2), [1998.0]])


for i, name in enumerate(names):
    c, hi, mu, lo = series[i]
    r, col = divmod(i, 5)
    left = 47 + col * 278
    top = 64 + r * 178
    ax = fig.add_axes([left / W, 1 - (top + 116) / H, 200 / W, 116 / H])
    tc = 1991.0 + np.arange(len(c)) / 12.0
    tt = temp_times(len(hi))
    ax.plot(tt, hi, color=thin_col, lw=0.65, zorder=2)
    ax.plot(tt, lo, color=thin_col, lw=0.65, zorder=2)
    ax.plot(tt, mu, color='blue', lw=2.2, dashes=(2.2, 1.6), zorder=3)
    ax.plot(tc, c, color='red', lw=1.4, zorder=4)

    ymin, ymax, step = ylims[i]
    ax.set_xlim(1990, 1998)
    ax.set_ylim(ymin, ymax)
    ax.set_xticks(year_ticks)
    ax.set_yticks(np.arange(0, ymax + 0.01, step))
    ax.grid(True, color='#e2e2e2', lw=0.6)
    ax.set_axisbelow(True)
    for sp in ax.spines.values():
        sp.set_color(spine_col)
        sp.set_linewidth(0.6)
    ax.tick_params(direction='in', length=2.5, width=0.6, color=spine_col,
                   labelsize=13.5, labelcolor='#262626', top=True, right=True)
    ax.tick_params(axis='x', pad=6.5)
    ax.tick_params(axis='y', pad=3)
    ax.set_title(name, fontsize=15, fontweight='bold', pad=4, color='black')

handles = [Line2D([], [], color='red', lw=1.4),
           Line2D([], [], color='blue', lw=2.2, dashes=(2.2, 1.6))]
labels = ['SQRT(Cases)', 'Temperature ($^{\\mathrm{o}}$C)']
leg = fig.legend(handles, labels, loc='upper left',
                 bbox_to_anchor=(208 / W, 1 - 8 / H), fontsize=12,
                 frameon=True, fancybox=False, edgecolor=spine_col, framealpha=1,
                 handlelength=1.55, handletextpad=0.2, borderpad=0.22,
                 labelspacing=0.5, borderaxespad=0)
leg.get_frame().set_linewidth(0.7)

fig.savefig('out.png', dpi=100)
